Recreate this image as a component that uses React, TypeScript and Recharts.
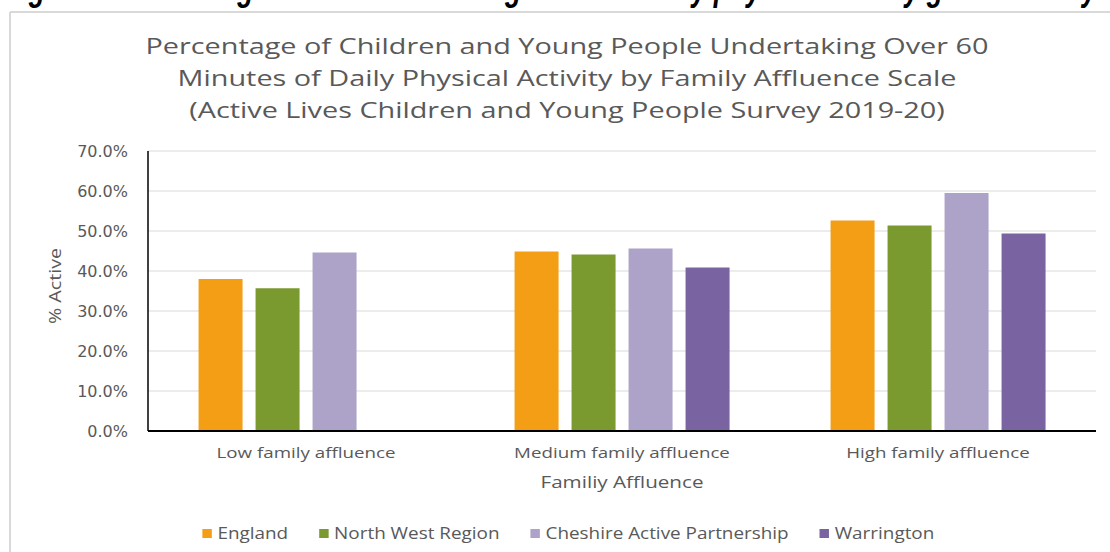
import React from 'react';
import { BarChart, Bar, XAxis, YAxis, CartesianGrid, Legend } from 'recharts';

const categories = ['Low family affluence', 'Medium family affluence', 'High family affluence'];
const england = [38.0, 44.9, 52.6];
const northWest = [35.7, 44.1, 51.4];
const cheshire = [44.6, 45.6, 59.5];
const warrington: (number | null)[] = [null, 40.9, 49.4];
const yTicks = [0, 10, 20, 30, 40, 50, 60, 70];

const seriesNames = ['England', 'North West Region', 'Cheshire Active Partnership', 'Warrington'];
const seriesColors = ['#F49E16', '#7A992E', '#ADA2C7', '#7964A1'];
const seriesKeys = ['england', 'northWest', 'cheshire', 'warrington'];

const titleLines = [
  'Percentage of Children and Young People Undertaking Over 60',
  'Minutes of Daily Physical Activity by Family Affluence Scale',
  '(Active Lives Children and Young People Survey 2019-20)',
];
const xTitle = 'Familiy Affluence';
const yTitle = '% Active';
const caption = 'Figure 4: Percentage of children meeting the CMO daily physical activity guidelines by family affluence';

const data = categories.map((c, i) => ({
  category: c,
  england: england[i],
  northWest: northWest[i],
  cheshire: cheshire[i],
  warrington: warrington[i],
}));

const TEXT = '#595959';
const FONT = "'Open Sans', sans-serif";

const LegendContent = () => (
  <div style={{ display: 'flex', justifyContent: 'center', alignItems: 'center', fontFamily: FONT, fontSize: 16, color: TEXT, transform: 'scaleX(1.18)', transformOrigin: '567px 50%' }}>
    {seriesNames.map((n, i) => (
      <div key={n} style={{ display: 'flex', alignItems: 'center', marginRight: i < 3 ? 26 : 0 }}>
        <span style={{ display: 'inline-block', width: 8, height: 9, background: seriesColors[i], marginRight: 5 }} />
        <span>{n}</span>
      </div>
    ))}
  </div>
);

const CategoryTick = (props: any) => {
  const { x, y, payload } = props;
  return (
    <g transform={`translate(${x},${y})`}>
      <text transform="scale(1.25,1)" x={0} y={0} dy="0.71em" textAnchor="middle" fill={TEXT} fontSize={15} fontFamily={FONT}>
        {payload.value}
      </text>
    </g>
  );
};

const XTitle = (props: any) => {
  const vb = props.viewBox || {};
  const cx = vb.x + vb.width / 2;
  return (
    <g transform={`translate(${cx},${vb.y + 57})`}>
      <text transform="scale(1.29,1)" x={0} y={0} textAnchor="middle" fill={TEXT} fontSize={16} fontFamily={FONT}>
        {xTitle}
      </text>
    </g>
  );
};

const YTitle = (props: any) => {
  const vb = props.viewBox || {};
  const cy = vb.y + vb.height / 2 - 5;
  return (
    <g transform={`translate(${vb.x + 61},${cy}) rotate(-90)`}>
      <text transform="scale(1.23,1)" x={0} y={0} textAnchor="middle" fill={TEXT} fontSize={16} fontFamily={FONT}>
        {yTitle}
      </text>
    </g>
  );
};

export default function App() {
  return (
    <div style={{ position: 'absolute', left: 0, top: 0, width: 1110, height: 552, overflow: 'hidden', background: '#fff' }}>
      <svg width={1110} height={552} style={{ position: 'absolute', left: 0, top: 0 }}>
        <text x={5} y={-0.5} fontFamily="'Liberation Sans', sans-serif" fontWeight="bold" fontStyle="italic" fontSize={36} fill="#000" textLength={1300} lengthAdjust="spacingAndGlyphs">{caption}</text>
        <line x1={10} y1={12} x2={1110} y2={12} stroke="#d9d9d9" strokeWidth={2} />
        <line x1={10} y1={12} x2={10} y2={552} stroke="#d9d9d9" strokeWidth={2} />
        {titleLines.map((t, i) => (
          <g key={i} transform={`translate(567,${54 + i * 32})`}>
            <text transform="scale(1.31,1)" x={0} y={0} textAnchor="middle" fontFamily={FONT} fontSize={22} fill={TEXT}>{t}</text>
          </g>
        ))}
      </svg>
      <div style={{ position: 'absolute', left: 0, top: 0 }}>
        <BarChart width={1110} height={552} data={data} margin={{ top: 151, right: 14, left: 0, bottom: 0 }} barCategoryGap="16%" barGap={13}>
          <CartesianGrid vertical={false} stroke="#d9d9d9" strokeWidth={1} />
          <XAxis
            dataKey="category"
            height={121}
            axisLine={{ stroke: '#000', strokeWidth: 2 }}
            tickLine={false}
            tickSize={0}
            tickMargin={16}
            tick={<CategoryTick />}
            label={(p: any) => <XTitle {...p} />}
          />
          <YAxis
            width={148}
            domain={[0, 70]}
            ticks={yTicks}
            axisLine={{ stroke: '#000', strokeWidth: 1.5 }}
            tickLine={false}
            tickSize={0}
            tickMargin={20}
            tickFormatter={(v: number) => `${v.toFixed(1)}%`}
            tick={{ fill: TEXT, fontSize: 16, fontFamily: "'DejaVu Sans', sans-serif" }}
            label={(p: any) => <YTitle {...p} />}
          />
          {seriesKeys.map((k, i) => (
            <Bar key={k} dataKey={k} name={seriesNames[i]} fill={seriesColors[i]} isAnimationActive={false} />
          ))}
          <Legend
            layout="horizontal"
            verticalAlign="middle"
            align="center"
            content={<LegendContent />}
            wrapperStyle={{ top: 522, left: 0, width: 1136, height: 22 }}
          />
        </BarChart>
      </div>
    </div>
  );
}
